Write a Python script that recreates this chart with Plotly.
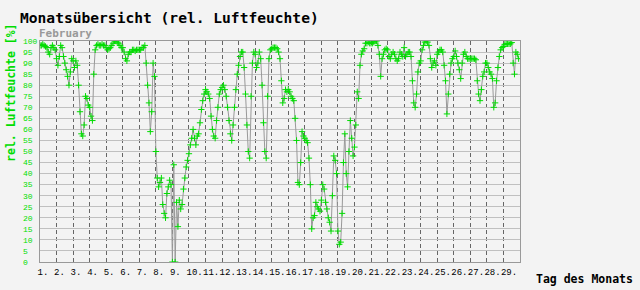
import plotly.graph_objects as go

# Relative humidity, February (leap year), one reading every 2 hours (12 per day)
humidity = [
    98, 98, 98.5, 98, 97.5, 97, 95, 94, 97, 98, 97, 96,        # 1
    92, 89, 93, 98, 97, 93, 90, 87, 84, 80, 86, 92,            # 2
    91, 88, 91, 89, 80, 68, 58, 57, 62, 75, 74, 71,            # 3
    70, 66, 64, 85, 96, 98, 98.5, 98, 98, 98.5, 98, 98,        # 4
    97, 96, 96.5, 97, 98, 99, 100, 100, 99.5, 99, 98, 97,      # 5
    97, 95, 92, 91, 94, 95, 95, 96, 96, 95.5, 96, 96,          # 6
    96, 96, 97, 97, 98, 90, 80, 72, 59, 68, 90, 84,            # 7
    50, 38, 34, 36, 38, 26, 22, 20, 31, 34, 37, 35,            # 8
    0, 44, 0, 27, 16, 28, 24, 26, 33, 38, 43, 46,              # 9
    49, 53, 56, 60, 56, 53, 57, 58, 63, 69, 73, 76,            # 10
    78, 77, 76, 74, 66, 60, 57, 56, 64, 70, 76, 78,            # 11
    79, 80, 78, 75, 70, 64, 58, 55, 62, 70, 78, 85,            # 12
    89, 93, 95, 95, 88, 76, 62, 50, 47, 75, 90, 95,            # 13
    94, 88, 90, 95, 92, 80, 63, 50, 47, 75, 92, 96,            # 14
    96.5, 97, 97, 97, 96.5, 95, 92, 82, 72, 74, 78, 77,        # 15
    78, 77, 75, 74, 73, 65, 55, 36, 35, 45, 59, 57,            # 16
    56, 55, 54, 47, 35, 15, 20, 21, 27, 25, 24, 23,            # 17
    28, 35, 33, 27, 24, 20, 18, 14, 30, 48, 46, 40,            # 18
    14, 8, 9, 22, 45, 58, 40, 34, 50, 64, 56, 48,              # 19
    52, 62, 77, 74, 89, 94, 95.5, 96.5, 99, 99, 99.5, 99,      # 20
    99, 99, 99.5, 100, 100, 98, 94, 84, 92, 94, 96, 96.5,      # 21
    96, 93, 92, 94, 95, 94, 92, 91, 92, 95, 94, 93,            # 22
    97, 93, 94, 95, 95, 93, 82, 72, 70, 76, 86, 90,            # 23
    91, 96, 98, 99.5, 100, 99.5, 98, 92, 88, 90, 91, 89,       # 24
    94, 95, 96, 96, 95, 89, 82, 67, 76, 85, 90, 92,            # 25
    93, 95.5, 93, 90, 87, 83, 90, 94, 95, 93, 92, 92,          # 26
    92, 92, 92, 92, 91.5, 82, 76, 73, 78, 84, 86, 90,          # 27
    90, 88, 86, 85, 83, 70, 72, 82, 88, 93, 96, 97,            # 28
    97.5, 98.5, 98.7, 98.7, 98.7, 98.7, 99.3, 90, 85, 95, 94, 92,  # 29
]
readings_per_day = 12
days = list(range(1, 30))
day_labels = [f"{d}." for d in days]
y_ticks = list(range(0, 101, 5))

GREEN = "#00dd00"
BG = "#f3f3f3"
MONO = "Liberation Mono, DejaVu Sans Mono, monospace"

# time in days (1.0 = 1 Feb 00:00)
t = [1 + i / readings_per_day for i in range(len(humidity))]

# label centres: text starts ~2.5 px left of the day boundary (16.55 px per day, 5.4 px per char)
px_per_day = 480 / 29
label_pos = [d + (len(l) * 5.4 / 2 - 2.5) / px_per_day for d, l in zip(days, day_labels)]

fig = go.Figure()
fig.add_trace(go.Scatter(
    x=t, y=humidity, mode="lines+markers",
    line=dict(color="#999999", width=1),
    marker=dict(symbol="cross-thin", size=4.5, color=GREEN, line=dict(color=GREEN, width=1)),
    hoverinfo="skip", showlegend=False,
))
# invisible trace to carry the label axis
fig.add_trace(go.Scatter(x=[1, 30], y=[None, None], xaxis="x2", mode="lines",
                         showlegend=False, hoverinfo="skip"))

fig.update_layout(
    width=640, height=290,
    margin=dict(l=40, r=120, t=40.5, b=25),
    paper_bgcolor=BG, plot_bgcolor=BG,
    title=dict(text="Monatsübersicht (rel. Luftfeuchte)", x=20 / 640, xanchor="left",
               y=1 - 17.5 / 290, yanchor="middle", yref="container",
               font=dict(family="DejaVu Sans Mono", size=14.6, color="#000000", weight="bold")),
    xaxis=dict(range=[1, 30], tickvals=days[1:], showticklabels=False, ticks="",
               showgrid=True, gridcolor="#666666", gridwidth=1, griddash="4px,3px",
               showline=True, linecolor="#999999", linewidth=1, mirror=True, zeroline=False),
    xaxis2=dict(range=[1, 30], overlaying="x", side="bottom", anchor="y",
                tickvals=label_pos, ticktext=day_labels, tickangle=0, ticks="",
                ticklabelstandoff=3, showgrid=False, zeroline=False, showline=False,
                tickfont=dict(family=MONO, size=9, color="#000000")),
    yaxis=dict(range=[0, 100], tickvals=y_ticks,
               ticktext=[str(v) + "\u00a0" * (3 - len(str(v))) for v in y_ticks],
               ticks="", ticklabelstandoff=0,
               showgrid=True, gridcolor="#c0c0c0", gridwidth=1, zeroline=False,
               showline=True, linecolor="#999999", linewidth=1, mirror=True,
               tickfont=dict(family=MONO, size=8, color=GREEN)),
    annotations=[
        dict(text="<b>February</b>", xref="paper", yref="paper", x=-0.006, y=1.036,
             xanchor="left", yanchor="middle", showarrow=False,
             font=dict(family="DejaVu Sans Mono", size=11, color="#999999")),
        dict(text="<b>rel. Luftfeuchte [%]</b>", xref="paper", yref="paper", x=-0.0604, y=0.765,
             xanchor="center", yanchor="middle", textangle=-90, showarrow=False,
             font=dict(family="DejaVu Sans Mono", size=11.5, color=GREEN)),
        dict(text="<b>Tag des Monats</b>", xref="paper", yref="paper", x=1.029, y=-0.0758,
             xanchor="left", yanchor="middle", showarrow=False,
             font=dict(family="DejaVu Sans Mono", size=11.5, color="#000000")),
    ],
)

fig.write_html("out.html")
